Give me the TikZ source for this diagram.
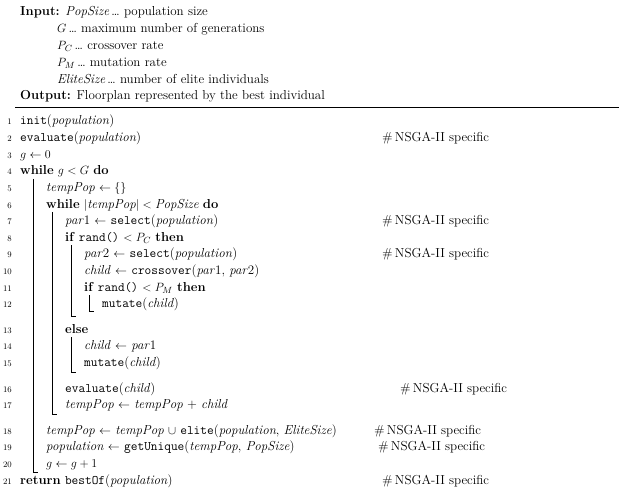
\documentclass[tikz,border=0pt]{standalone}
\begin{document}
\begin{tikzpicture}[x=1pt,y=-1pt,
  txt/.style={anchor=base west,inner sep=0pt,font=\fontsize{13}{15}\selectfont},
  num/.style={anchor=base east,inner sep=0pt,font=\fontsize{8.5}{10}\selectfont},
  cmt/.style={txt},
  bar/.style={line width=0.6pt}]
\useasboundingbox (0,0) rectangle (619,492);
\newcommand\va[1]{\textit{#1}}
\newcommand\fn[1]{\texttt{#1}}
% header
\node[txt] (in) at (20,16) {\textbf{Input:} \va{PopSize}\,\dots\ population size};
\node[txt] (hg) at (57,32.8) {$G$\,\dots\ maximum number of generations};
\node[txt] (hpc) at (57,49.6) {$P_C$\,\dots\ crossover rate};
\node[txt] (hpm) at (57,66.4) {$P_M$\,\dots\ mutation rate};
\node[txt] (hel) at (57,83.2) {\va{EliteSize}\,\dots\ number of elite individuals};
\node[txt] (out) at (20,100) {\textbf{Output:} Floorplan represented by the best individual};
\coordinate (r1) at (15,107); \coordinate (r2) at (619,107);
\draw[line width=0.5pt] (r1) -- (r2);
% numbers
\foreach \n/\y in {1/121,2/137.6,3/154.2,4/170.8,5/187.4,6/204,7/220.6,8/237.2,9/253.8,10/270.4,11/287,12/303.6,13/329.2,14/345.8,15/362.4,16/388,17/404.6,18/430.2,19/446.8,20/463.4,21/480}
  \node[num] (n\n) at (12,\y+4) {\n};
% code
\node[txt] (l1) at (20,125) {\fn{init}(\va{population})};
\node[txt] (l2) at (20,141.6) {\fn{evaluate}(\va{population})};
\node[txt] (c2) at (382,141.6) {\#\,NSGA-II specific};
\node[txt] (l3) at (20,158.2) {$g\leftarrow0$};
\node[txt] (l4) at (20,174.8) {\textbf{while} $g<G$ \textbf{do}};
\node[txt] (l5) at (46,191.4) {\va{tempPop} $\leftarrow\{\}$};
\node[txt] (l6) at (46,208) {\textbf{while} $|\textit{tempPop}|<\textit{PopSize}$ \textbf{do}};
\node[txt] (l7) at (65,224.6) {\va{par}1 $\leftarrow$ \fn{select}(\va{population})};
\node[txt] (c7) at (382,224.6) {\#\,NSGA-II specific};
\node[txt] (l8) at (65,241.2) {\textbf{if} \fn{rand()} $<P_C$ \textbf{then}};
\node[txt] (l9) at (84,257.8) {\va{par}2 $\leftarrow$ \fn{select}(\va{population})};
\node[txt] (c9) at (382,257.8) {\#\,NSGA-II specific};
\node[txt] (l10) at (84,274.4) {\va{child} $\leftarrow$ \fn{crossover}(\va{par}1, \va{par}2)};
\node[txt] (l11) at (84,291) {\textbf{if} \fn{rand()} $<P_M$ \textbf{then}};
\node[txt] (l12) at (102,307.6) {\fn{mutate}(\va{child})};
\node[txt] (l13) at (65,333.2) {\textbf{else}};
\node[txt] (l14) at (84,349.8) {\va{child} $\leftarrow$ \va{par}1};
\node[txt] (l15) at (84,366.4) {\fn{mutate}(\va{child})};
\node[txt] (l16) at (65,392) {\fn{evaluate}(\va{child})};
\node[txt] (c16) at (400,392) {\#\,NSGA-II specific};
\node[txt] (l17) at (65,408.6) {\va{tempPop} $\leftarrow$ \va{tempPop} + \va{child}};
\node[txt] (l18) at (46,434.2) {\va{tempPop} $\leftarrow$ \va{tempPop} $\cup$ \fn{elite}(\va{population}, \va{EliteSize})};
\node[txt] (c18) at (374,434.2) {\#\,NSGA-II specific};
\node[txt] (l19) at (46,450.8) {\va{population} $\leftarrow$ \fn{getUnique}(\va{tempPop}, \va{PopSize})};
\node[txt] (c19) at (378,450.8) {\#\,NSGA-II specific};
\node[txt] (l20) at (46,467.4) {$g\leftarrow g+1$};
\node[txt] (l21) at (20,484) {\textbf{return} \fn{bestOf}(\va{population})};
\node[txt] (c21) at (382,484) {\#\,NSGA-II specific};
% block bars
\draw[bar] (33,179) -- (33,472) -- (38,472);
\draw[bar] (52,212) -- (52,414) -- (57,414);
\draw[bar] (71,245) -- (71,316) -- (76,316);
\draw[bar] (89,295) -- (89,311) -- (94,311);
\draw[bar] (71,337) -- (71,372) -- (76,372);
\end{tikzpicture}
\end{document}
